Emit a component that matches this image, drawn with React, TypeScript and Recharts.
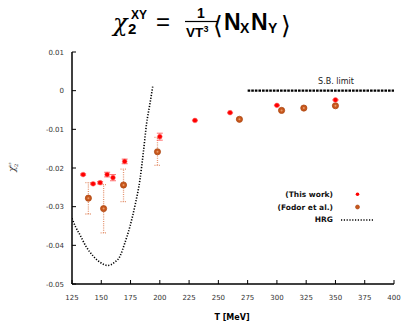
import React from 'react';
import {
  ComposedChart,
  Scatter,
  Line,
  ErrorBar,
  XAxis,
  YAxis,
} from 'recharts';

// this work
const T_THIS = [134.5, 143, 149, 155, 160, 170, 200, 230, 260, 300, 350];
const V_THIS = [-0.0217, -0.0241, -0.0238, -0.0217, -0.0225, -0.0183, -0.0119, -0.0077, -0.0057, -0.0038, -0.0024];
const E_THIS = [0.0002, 0.0002, 0.0003, 0.0006, 0.0008, 0.0006, 0.0009, 0.0001, 0.0001, 0.0001, 0.0001];

// Fodor et al.
const T_FODOR = [139, 152, 169, 198, 268, 304, 323, 350];
const V_FODOR = [-0.0278, -0.0305, -0.0244, -0.0158, -0.0074, -0.0051, -0.0045, -0.0039];
const ELO_FODOR = [0.0041, 0.0063, 0.0043, 0.0035, 0.0002, 0.0002, 0.0002, 0.0002];
const EHI_FODOR = [0.004, 0.0062, 0.0041, 0.0037, 0.0002, 0.0002, 0.0002, 0.0002];

// HRG curve
const T_HRG = [125, 128, 131.8, 137, 143.2, 149, 155.5, 161, 166, 170, 174.5, 179, 183, 186, 188.7, 191.5, 194];
const V_HRG = [-0.033, -0.0352, -0.0373, -0.0403, -0.0428, -0.0444, -0.0452, -0.0445, -0.0428, -0.0395, -0.0351, -0.0294, -0.0231, -0.0158, -0.0085, -0.0035, 0.0012];

// Stefan-Boltzmann limit
const T_SB = [275, 400];
const V_SB = [0, 0];

const X_TICKS = [125, 150, 175, 200, 225, 250, 275, 300, 325, 350, 375, 400];
const Y_TICKS = [-0.05, -0.04, -0.03, -0.02, -0.01, 0, 0.01];

const thisWork = T_THIS.map((T, i) => ({ T, v: V_THIS[i], err: E_THIS[i] }));
const fodor = T_FODOR.map((T, i) => ({ T, v: V_FODOR[i], err: [ELO_FODOR[i], EHI_FODOR[i]] }));
const hrg = T_HRG.map((T, i) => ({ T, v: V_HRG[i] }));
const sb = T_SB.map((T, i) => ({ T, v: V_SB[i] }));

const TICK_FONT = 'DejaVu Sans';
const M = 10;

const BottomTick = ({ x, y, payload }: any) => (
  <g>
    <line x1={x} y1={y - M} x2={x} y2={y - M - 4} stroke="#000" strokeWidth={1} />
    <text x={x} y={y + 6} textAnchor="middle" fontSize={7} fontFamily={TICK_FONT} fill="#333">
      {payload.value}
    </text>
  </g>
);

const TopTick = ({ x, y }: any) => (
  <line x1={x} y1={y} x2={x} y2={y + 4} stroke="#000" strokeWidth={1} />
);

const LeftTick = ({ x, y, payload }: any) => (
  <g>
    <line x1={x + 8} y1={y} x2={x + 12} y2={y} stroke="#000" strokeWidth={1} />
    <text x={x} y={y + 2.5} textAnchor="end" fontSize={7} fontFamily={TICK_FONT} fill="#333">
      {String(payload.value)}
    </text>
  </g>
);

const RightTick = ({ x, y }: any) => (
  <line x1={x} y1={y} x2={x - 4} y2={y} stroke="#000" strokeWidth={1} />
);

const RedDot = ({ cx, cy }: any) => (
  <circle cx={cx} cy={cy} r={2.4} fill="#ff0000" stroke="#ff7070" strokeWidth={0.5} />
);

const OrangeDot = ({ cx, cy }: any) => (
  <g>
    <circle cx={cx} cy={cy} r={3.1} fill="#c8581c" stroke="#a8420e" strokeWidth={0.7} />
    <circle cx={cx} cy={cy} r={1} fill="#e89a6a" />
  </g>
);

const Overlay = () => (
  <svg width={403} height={323} style={{ position: 'absolute', left: 0, top: 0, pointerEvents: 'none' }}>
    {/* title */}
    <g fontFamily="Liberation Sans" fill="#000">
      <text x={113} y={31} fontFamily="DejaVu Serif" fontStyle="italic" fontSize={24}>χ</text>
      <text x={131} y={19} fontWeight="bold" fontSize={12}>XY</text>
      <text x={128} y={34} fontWeight="bold" fontSize={15}>2</text>
      <text x={156} y={30} fontSize={24}>=</text>
      <text x={197} y={18} fontWeight="bold" fontSize={14}>1</text>
      <line x1={185} y1={21.5} x2={217} y2={21.5} stroke="#000" strokeWidth={1.2} />
      <text x={186} y={37} fontWeight="bold" fontSize={13.5}>VT</text>
      <text x={203.5} y={32} fontWeight="bold" fontSize={9}>3</text>
      <text x={213} y={34} fontFamily="Liberation Serif" fontSize={25}>⟨</text>
      <text x={224} y={30} fontWeight="bold" fontSize={23}>N</text>
      <text x={240} y={33} fontWeight="bold" fontSize={14}>X</text>
      <text x={251} y={30} fontWeight="bold" fontSize={23}>N</text>
      <text x={268} y={33} fontWeight="bold" fontSize={14}>Y</text>
      <text x={281} y={34} fontFamily="Liberation Serif" fontSize={25}>⟩</text>
    </g>
    {/* y label */}
    <g transform="translate(15,168) rotate(-90)" fontFamily="DejaVu Serif" fill="#333">
      <text x={-4} y={0} fontStyle="italic" fontSize={9}>χ</text>
      <text x={1} y={3} fontSize={5}>2</text>
      <text x={1} y={-4} fontSize={4}>us</text>
    </g>
    {/* x label */}
    <text x={232} y={320} textAnchor="middle" fontWeight="bold" fontSize={8} fontFamily={TICK_FONT}>
      T [MeV]
    </text>
    {/* S.B. limit */}
    <text x={336} y={84} textAnchor="middle" fontSize={8} fontFamily={TICK_FONT} fill="#222">
      S.B. limit
    </text>
    {/* legend */}
    <g fontFamily={TICK_FONT} fontWeight="bold" fontSize={7.5} textAnchor="end" fill="#111">
      <text x={333} y={197}>(This work)</text>
      <text x={333} y={210}>(Fodor et al.)</text>
      <text x={333} y={222}>HRG</text>
    </g>
    <circle cx={357.5} cy={194.3} r={1.8} fill="#ff0000" />
    <circle cx={357.5} cy={207} r={2} fill="#c8581c" stroke="#a8420e" strokeWidth={0.6} />
    <line x1={341} y1={220} x2={374} y2={220} stroke="#000" strokeWidth={1.5} strokeDasharray="1.2 1.6" />
  </svg>
);

export default function App() {
  return (
    <div style={{ position: 'absolute', left: 0, top: 0, width: 403, height: 323, background: '#fff' }}>
      <ComposedChart width={403} height={323} margin={{ top: 52, right: 9, left: 0, bottom: 0 }}>
        <XAxis
          xAxisId="b"
          type="number"
          dataKey="T"
          domain={[125, 400]}
          ticks={X_TICKS}
          interval={0}
          height={39}
          tickSize={0}
          tickMargin={M}
          tick={<BottomTick />}
          axisLine={{ stroke: '#000', strokeWidth: 1.5 }}
          allowDataOverflow
        />
        <XAxis
          xAxisId="t"
          orientation="top"
          type="number"
          dataKey="T"
          domain={[125, 400]}
          ticks={X_TICKS}
          interval={0}
          height={0}
          tickSize={0}
          tickMargin={0}
          tick={<TopTick />}
          axisLine={{ stroke: '#000', strokeWidth: 1.5 }}
          allowDataOverflow
        />
        <YAxis
          yAxisId="l"
          type="number"
          dataKey="v"
          domain={[-0.05, 0.01]}
          ticks={Y_TICKS}
          interval={0}
          width={72}
          tickSize={0}
          tickMargin={8}
          tick={<LeftTick />}
          axisLine={{ stroke: '#000', strokeWidth: 1.5 }}
          allowDataOverflow
        />
        <YAxis
          yAxisId="r"
          orientation="right"
          type="number"
          dataKey="v"
          domain={[-0.05, 0.01]}
          ticks={Y_TICKS}
          interval={0}
          width={0}
          tickSize={0}
          tickMargin={0}
          tick={<RightTick />}
          axisLine={{ stroke: '#000', strokeWidth: 1.5 }}
          allowDataOverflow
        />
        <Line
          xAxisId="b"
          yAxisId="l"
          data={sb}
          dataKey="v"
          type="linear"
          stroke="#000"
          strokeWidth={2.2}
          strokeDasharray="2.6 1"
          dot={false}
          isAnimationActive={false}
        />
        <Line
          xAxisId="b"
          yAxisId="l"
          data={hrg}
          dataKey="v"
          type="monotone"
          stroke="#000"
          strokeWidth={1.6}
          strokeDasharray="1.2 1.6"
          dot={false}
          isAnimationActive={false}
        />
        <Scatter
          xAxisId="b"
          yAxisId="l"
          data={fodor}
          dataKey="v"
          shape={<OrangeDot />}
          isAnimationActive={false}
        >
          <ErrorBar
            dataKey="err"
            direction="y"
            width={3}
            stroke="#e49470"
            strokeWidth={1.3}
            strokeDasharray="1 1.2"
            isAnimationActive={false}
          />
        </Scatter>
        <Scatter
          xAxisId="b"
          yAxisId="l"
          data={thisWork}
          dataKey="v"
          shape={<RedDot />}
          isAnimationActive={false}
        >
          <ErrorBar
            dataKey="err"
            direction="y"
            width={3}
            stroke="#ff6060"
            strokeWidth={0.9}
            isAnimationActive={false}
          />
        </Scatter>
      </ComposedChart>
      <Overlay />
    </div>
  );
}
